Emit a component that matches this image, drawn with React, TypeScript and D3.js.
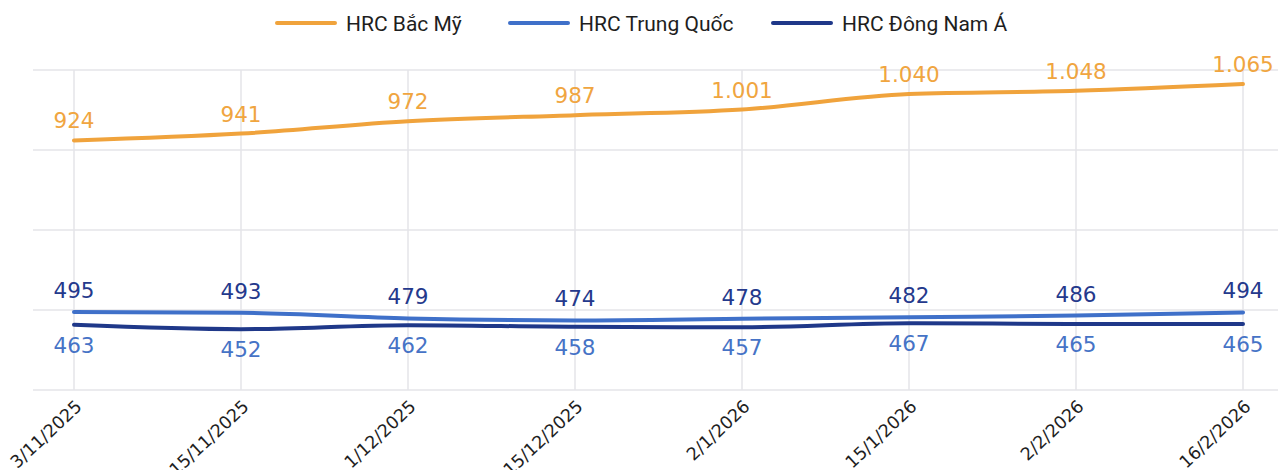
import { useEffect, useRef } from "react";
import * as d3 from "d3";

const dates = [
  "3/11/2025",
  "15/11/2025",
  "1/12/2025",
  "15/12/2025",
  "2/1/2026",
  "15/1/2026",
  "2/2/2026",
  "16/2/2026",
];
const bacMy = [924, 941, 972, 987, 1001, 1040, 1048, 1065];
const trungQuoc = [495, 493, 479, 474, 478, 482, 486, 494];
const dongNamA = [463, 452, 462, 458, 457, 467, 465, 465];
const yTicks = [300, 500, 700, 900, 1100];

const WIDTH = 1284;
const HEIGHT = 470;

// dinh dang so kieu Viet Nam: 1.065
const vn = d3.formatLocale({
  decimal: ",",
  thousands: ".",
  grouping: [3],
  currency: ["", ""],
});
const fmt = vn.format(",d");

type Series = {
  name: string;
  values: number[];
  lineColor: string;
  labelColor: string;
  labelDy: number;
};

const series: Series[] = [
  { name: "HRC Bắc Mỹ", values: bacMy, lineColor: "#f0a33c", labelColor: "#f0a540", labelDy: -12 },
  { name: "HRC Trung Quốc", values: trungQuoc, lineColor: "#3f70c9", labelColor: "#24398c", labelDy: -14 },
  { name: "HRC Đông Nam Á", values: dongNamA, lineColor: "#1f3889", labelColor: "#4673c6", labelDy: 28 },
];

export default function App() {
  const svgRef = useRef<SVGSVGElement>(null);

  useEffect(() => {
    const svg = d3.select(svgRef.current);
    svg.selectAll("*").remove();

    const x = d3.scalePoint<string>().domain(dates).range([74, 1243]);
    const y = d3.scaleLinear().domain([300, 1100]).range([390, 70]);

    // luoi ngang
    svg
      .append("g")
      .selectAll("line")
      .data(yTicks)
      .join("line")
      .attr("x1", 33)
      .attr("x2", 1278)
      .attr("y1", (d) => y(d))
      .attr("y2", (d) => y(d))
      .attr("stroke", "#e4e4e8")
      .attr("stroke-width", 1.5);

    // luoi doc
    svg
      .append("g")
      .selectAll("line")
      .data(dates)
      .join("line")
      .attr("x1", (d) => x(d)!)
      .attr("x2", (d) => x(d)!)
      .attr("y1", y(1100))
      .attr("y2", y(300))
      .attr("stroke", "#e4e4e8")
      .attr("stroke-width", 1.5);

    // nhan truc x
    svg
      .append("g")
      .selectAll("text")
      .data(dates)
      .join("text")
      .attr("transform", (d) => `translate(${x(d)! + 9},408) rotate(-43)`)
      .attr("text-anchor", "end")
      .attr("font-family", "DejaVu Sans, sans-serif")
      .attr("font-size", 17.5)
      .attr("fill", "#1e1e1e")
      .text((d) => d);

    const line = d3
      .line<number>()
      .x((_, i) => x(dates[i])!)
      .y((d) => y(d))
      .curve(d3.curveMonotoneX);

    // ve tu duoi len de duong cam nam tren
    [...series].reverse().forEach((s) => {
      svg
        .append("path")
        .attr("d", line(s.values))
        .attr("fill", "none")
        .attr("stroke", s.lineColor)
        .attr("stroke-width", 4)
        .attr("stroke-linecap", "round");
    });

    series.forEach((s) => {
      svg
        .append("g")
        .selectAll("text")
        .data(s.values)
        .join("text")
        .attr("x", (_, i) => x(dates[i])!)
        .attr("y", (d) => y(d) + s.labelDy)
        .attr("text-anchor", "middle")
        .attr("font-family", "DejaVu Sans, sans-serif")
        .attr("font-size", 21.5)
        .attr("fill", s.labelColor)
        .text((d) => fmt(d));
    });

    // chu thich
    const legendX = [277, 510, 773];
    const legend = svg
      .append("g")
      .selectAll("g")
      .data(series)
      .join("g")
      .attr("transform", (_, i) => `translate(${legendX[i]},23)`);

    legend
      .append("line")
      .attr("x1", 0)
      .attr("x2", 58)
      .attr("stroke", (d) => d.lineColor)
      .attr("stroke-width", 4)
      .attr("stroke-linecap", "round");

    legend
      .append("text")
      .attr("x", 69)
      .attr("y", 8)
      .attr("font-family", "Roboto, sans-serif")
      .attr("font-size", 21)
      .attr("fill", "#1e1e1e")
      .text((d) => d.name);
  }, []);

  return (
    <svg
      ref={svgRef}
      width={WIDTH}
      height={HEIGHT}
      style={{ position: "absolute", left: 0, top: 0, background: "#fff" }}
    />
  );
}
